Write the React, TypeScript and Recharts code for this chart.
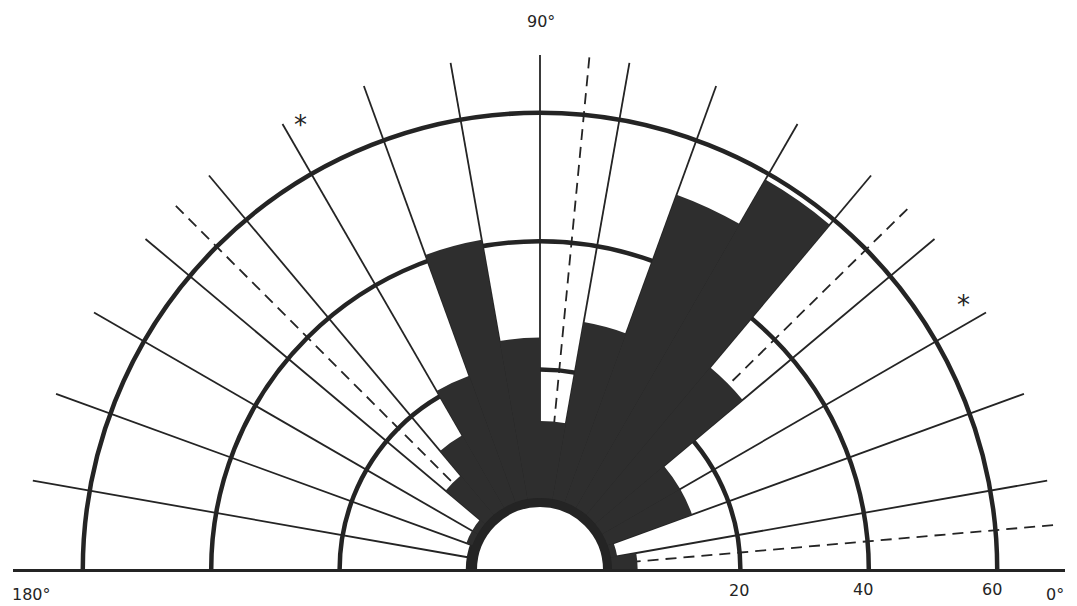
import React from 'react';
import { RadialBarChart, RadialBar, PolarAngleAxis, PolarRadiusAxis, PolarGrid } from 'recharts';

// 10-degree direction classes, 0° on the right, 180° on the left
const BINS = [
    '0-10', '10-20', '20-30', '30-40', '40-50', '50-60',
    '60-70', '70-80', '80-90', '90-100', '100-110', '110-120',
    '120-130', '130-140', '140-150', '150-160', '160-170', '170-180',
];
// counts
const COUNTS = [0, 4, 1, 14, 14, 30, 59, 51, 28, 12, 25, 41, 21, 13, 8, 1, 1, 0];

// grid
const SECTOR_EDGES = [10, 20, 30, 40, 50, 60, 70, 80, 90, 100, 110, 120, 130, 140, 150, 160, 170];
const DASHED_DIRECTIONS = [5, 44.5, 84.5, 135];
const RING_TICKS = [0, 20, 40, 60];
const RADIUS_DOMAIN = [0, 69];

// text
const SCALE_LABELS = ['20', '40', '60'];
const ANGLE_LABELS = ['0°', '90°', '180°'];
const STAR = '*';

const W = 1077;
const H = 606;
const CX = 540;
const CY = 570;
const R_IN = 72;
const R_OUT = 515;
const INK = '#242424';
const FILL = '#2e2e2e';

const data = BINS.map((bin, i) => ({ bin, count: COUNTS[i] }));

const txt: React.CSSProperties = {
    position: 'absolute',
    fontFamily: '"DejaVu Sans", sans-serif',
    fontSize: 16,
    lineHeight: '16px',
    color: INK,
    whiteSpace: 'nowrap',
};

export default function App() {
    return (
        <div style={{ position: 'absolute', left: 0, top: 0, width: W, height: H, background: '#fff', overflow: 'hidden' }}>
            {/* only the upper half of the rose is shown */}
            <div style={{ position: 'absolute', left: 0, top: 0, width: W, height: CY + 2, overflow: 'hidden' }}>
                <RadialBarChart
                    width={W}
                    height={CY + 2}
                    data={data}
                    layout="centric"
                    cx={CX}
                    cy={CY}
                    innerRadius={R_IN}
                    outerRadius={R_OUT}
                    startAngle={0}
                    endAngle={180}
                    barCategoryGap={0}
                    margin={{ top: 0, right: 0, bottom: 0, left: 0 }}
                >
                    <PolarAngleAxis type="category" dataKey="bin" tick={false} axisLine={false} tickLine={false} />
                    <PolarRadiusAxis type="number" domain={RADIUS_DOMAIN} ticks={RING_TICKS} tick={false} axisLine={false} tickLine={false} />
                    <PolarGrid polarAngles={SECTOR_EDGES} polarRadius={[]} stroke={INK} strokeWidth={1.8} />
                    <PolarGrid polarAngles={DASHED_DIRECTIONS} polarRadius={[]} stroke={INK} strokeWidth={1.8} strokeDasharray="11 7" />
                    <PolarGrid gridType="circle" radialLines={false} stroke={INK} strokeWidth={4.5} />
                    <PolarGrid gridType="circle" radialLines={false} polarRadius={[R_IN - 4.5]} stroke={INK} strokeWidth={9} />
                    <RadialBar dataKey="count" fill={FILL} isAnimationActive={false} />
                </RadialBarChart>
            </div>

            {/* base line 180° - 0° */}
            <div style={{ position: 'absolute', left: 13, top: CY - 1.5, width: 1052, height: 3, background: INK }} />

            <div style={{ ...txt, left: 527, top: 14 }}>{ANGLE_LABELS[1]}</div>
            <div style={{ ...txt, left: 12, top: 587 }}>{ANGLE_LABELS[2]}</div>
            <div style={{ ...txt, left: 1046, top: 587 }}>{ANGLE_LABELS[0]}</div>
            <div style={{ ...txt, left: 729, top: 583 }}>{SCALE_LABELS[0]}</div>
            <div style={{ ...txt, left: 853, top: 582 }}>{SCALE_LABELS[1]}</div>
            <div style={{ ...txt, left: 982, top: 582 }}>{SCALE_LABELS[2]}</div>

            <div style={{ ...txt, fontSize: 26, lineHeight: '26px', left: 294, top: 112 }}>{STAR}</div>
            <div style={{ ...txt, fontSize: 26, lineHeight: '26px', left: 957, top: 292 }}>{STAR}</div>
        </div>
    );
}
